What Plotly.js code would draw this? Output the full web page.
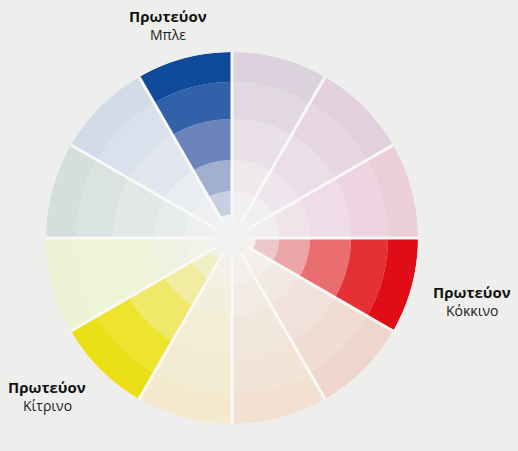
<!DOCTYPE html>
<html>
<head>
<meta charset="utf-8">
<script src="https://cdn.plot.ly/plotly-3.0.1.min.js"></script>
<style>html,body{margin:0;padding:0;background:#eeeeec;}#chart{width:518px;height:451px;}</style>
</head>
<body>
<div id="chart"></div>
<script>
// 12 sectors of 30°, listed counter-clockwise starting at 0° (east)
const sectorCenters = [15, 45, 75, 105, 135, 165, 195, 225, 255, 285, 315, 345];
const sectorWidth = 30;
// ring boundaries (radial units)
const ringEdges = [0, 24, 47, 78, 119, 156, 186];

// colours per ring (inner -> outer), one per sector
const ringCore = ['#f2f1ef','#f2f1ef','#f2f1ef','#f2f1ef','#f2f1ef','#f2f1ef','#f2f1ef','#f2f1ef','#f2f1ef','#f2f1ef','#f2f1ef','#f2f1ef'];
const ring1 = ['#f1eef0','#f1eef0','#f1eff0','#c7cfe2','#eff0f1','#eef0ee','#f1f2ea','#f1efc6','#f3f1e6','#f2efea','#f2eeeb','#edc7c9'];
const ring2 = ['#f0e4ea','#eee6ec','#efe9ee','#a1b0ce','#e9ecf1','#e8ecea','#eef2e2','#f1eca0','#f3efdd','#f2ebe3','#f1e8e2','#eca6a8'];
const ring3 = ['#efdce6','#ebdee7','#e9e0e8','#6b85ba','#e1e6ee','#e1e8e5','#eef3da','#f0e868','#f3edd6','#f2e7dc','#f0e2da','#ea6d70'];
const ring4 = ['#eed4e0','#e7d7e2','#e2d8e2','#3161a9','#d9e1ec','#dae3df','#eef4d6','#eee42e','#f3ebd1','#f2e4d6','#efdcd3','#e53036'];
const ring5 = ['#ecced9','#e3d0dc','#dcd2dd','#0f4a9b','#d2dbe7','#d4dfdb','#edf3d4','#eadf14','#f3e9cc','#f2e1d1','#eed6cc','#e00c16'];
const ringColors = [ringCore, ring1, ring2, ring3, ring4, ring5];

// labels
const labelTitles = ['Πρωτεύον', 'Πρωτεύον', 'Πρωτεύον'];
const labelNames = ['Μπλε', 'Κόκκινο', 'Κίτρινο'];
const labelX = [168, 472, 47];
const labelY1 = [16, 292, 387];
const labelY2 = [34, 310, 405];

const W = 518, H = 451;
const cx = 232, cy = 238, R = 186;

const traces = [];
for (let i = 0; i < ringColors.length; i++) {
  traces.push({
    type: 'barpolar',
    theta: sectorCenters,
    width: sectorCenters.map(() => sectorWidth),
    base: sectorCenters.map(() => ringEdges[i]),
    r: sectorCenters.map(() => ringEdges[i + 1] - ringEdges[i]),
    marker: { color: ringColors[i], line: { width: 0 } },
    hoverinfo: 'skip'
  });
}
// white separators between sectors
const sepR = [], sepT = [];
sectorCenters.forEach(c => {
  const a = c - sectorWidth / 2;
  sepR.push(ringEdges[1] - 6, ringEdges[ringEdges.length - 1] + 1, null);
  sepT.push(a, a, null);
});
traces.push({
  type: 'scatterpolar', mode: 'lines', r: sepR, theta: sepT,
  line: { color: '#f8f8f6', width: 3 }, hoverinfo: 'skip', connectgaps: false
});

const annotations = [];
for (let i = 0; i < labelTitles.length; i++) {
  annotations.push({
    xref: 'paper', yref: 'paper', x: labelX[i] / W, y: 1 - labelY1[i] / H,
    xanchor: 'center', yanchor: 'middle', showarrow: false,
    text: '<b>' + labelTitles[i] + '</b>',
    font: { family: 'Open Sans, sans-serif', size: 15, color: '#111111' }
  });
  annotations.push({
    xref: 'paper', yref: 'paper', x: labelX[i] / W, y: 1 - labelY2[i] / H,
    xanchor: 'center', yanchor: 'middle', showarrow: false,
    text: labelNames[i],
    font: { family: 'Open Sans, sans-serif', size: 14, color: '#222222' }
  });
}

const layout = {
  width: W, height: H,
  margin: { l: 0, r: 0, t: 0, b: 0, pad: 0 },
  paper_bgcolor: '#eeeeec',
  plot_bgcolor: '#eeeeec',
  showlegend: false,
  polar: {
    domain: { x: [(cx - R) / W, (cx + R) / W], y: [(H - cy - R) / H, (H - cy + R) / H] },
    bgcolor: 'rgba(0,0,0,0)',
    barmode: 'overlay',
    hole: 0,
    radialaxis: { visible: false, range: [0, R] },
    angularaxis: { visible: false, rotation: 0, direction: 'counterclockwise' }
  },
  annotations: annotations
};

Plotly.newPlot('chart', traces, layout, { displayModeBar: false, staticPlot: true });
</script>
</body>
</html>
